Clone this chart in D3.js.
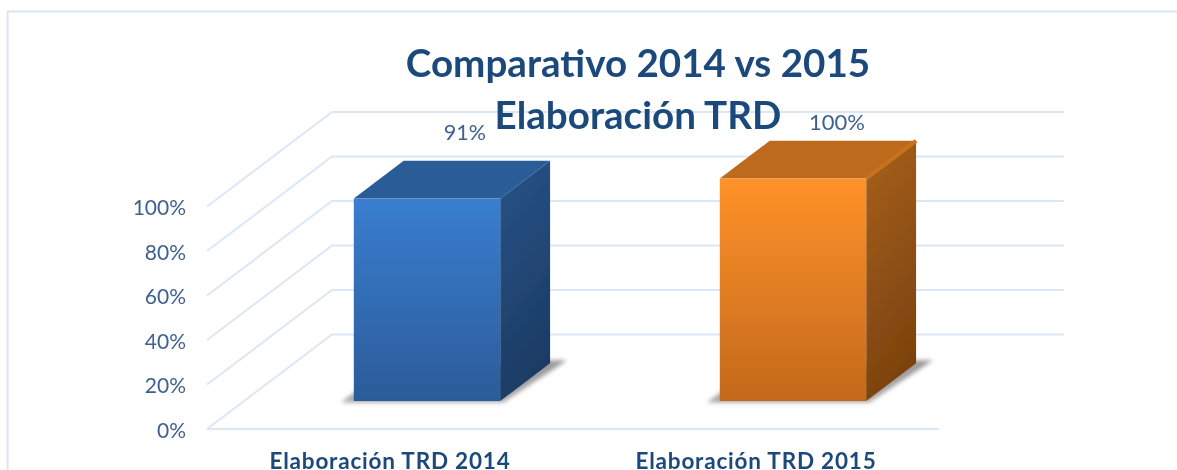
<!DOCTYPE html>
<html><head><meta charset="utf-8">
<script src="https://cdn.jsdelivr.net/npm/d3@7"></script>
<style>html,body{margin:0;padding:0;background:#fff;overflow:hidden}svg{display:block}text{font-family:Lato,"Open Sans",sans-serif}</style>
</head><body><div id="c"></div>
<script>
const categories = ["Elaboración TRD 2014", "Elaboración TRD 2015"];
const values = [0.91, 1.00];
const labels = ["91%", "100%"];
const tickValues = [0, 0.2, 0.4, 0.6, 0.8, 1];
const titleLines = ["Comparativo 2014 vs 2015", "Elaboración TRD"];
const W = 1177, H = 470;
const svg = d3.select("#c").append("svg").attr("width", W).attr("height", H);
const defs = svg.append("defs");
const y = d3.scaleLinear().domain([0, 1]).range([429, 206.5]);
const x = d3.scaleBand().domain(categories).range([207, 939]).paddingInner(0.6).paddingOuter(0.3);
const depthX = 125, depthY = 94.5, z0 = 0.296, z1 = 0.695;
const P = (px, v, z) => [px + depthX * z, y(v) - depthY * z];
const path = pts => "M" + pts.map(p => p.join(",")).join("L") + "Z";
function grad(id, c0, c1, diag) {
  const g = defs.append("linearGradient").attr("id", id).attr("x1", 0).attr("y1", 0).attr("x2", diag ? 0.25 : 0).attr("y2", 1);
  g.append("stop").attr("offset", 0).attr("stop-color", c0);
  g.append("stop").attr("offset", 1).attr("stop-color", c1);
}
grad("f0", "#3a7dd0", "#2b5c99"); grad("s0", "#285488", "#1b3b64", true);
grad("f1", "#ff9229", "#c3691c"); grad("s1", "#a7611c", "#7c430f", true);
grad("sh", "#9a9a9a", "#a8a8a8");
defs.append("filter").attr("id", "b").attr("x", "-20%").attr("y", "-20%").attr("width", "140%").attr("height", "140%")
  .append("feGaussianBlur").attr("stdDeviation", 2.2);
defs.append("filter").attr("id", "soft").attr("filterUnits", "userSpaceOnUse").attr("x", 0).attr("y", 0).attr("width", W).attr("height", H)
  .append("feGaussianBlur").attr("stdDeviation", 0.55);

const root = svg.append("g");
// frame
root.append("path").attr("d", `M7.5,${H + 5}V11.5H${W + 5}`).attr("fill", "none").attr("stroke", "#dbe6f6").attr("stroke-width", 2);

// grid
const grid = root.append("g").attr("fill", "none").attr("stroke", "#dce7f6").attr("stroke-width", 2);
tickValues.forEach(t => {
  const a = P(207, t, 0), b = P(207, t, 1), c = P(939, t, 1);
  grid.append("path").attr("d", `M${a}L${b}L${c}`);
});
grid.append("line").attr("x1", 207).attr("x2", 939).attr("y1", y(0)).attr("y2", y(0));

// axis labels
const axis = root.append("g").attr("transform", "translate(193,1.5)")
  .call(d3.axisLeft(y).tickValues(tickValues).tickSize(0).tickPadding(7).tickFormat(d3.format(".0%")));
axis.select(".domain").remove();
axis.selectAll("text").attr("fill", "#40618f").attr("font-size", 21).style("font-family", "Lato");

// bars
const labelShiftX = [-12, -6], labelShiftY = [-21, -11], labelSize = [21.5, 22];
categories.forEach((c, i) => {
  const l = x(c), r = l + x.bandwidth(), v = values[i];
  const g = root.append("g");
  const fl = P(l, 0, z0), fr = P(r, 0, z0), br = P(r, 0, z1);
  // floor shadow
  g.append("path").attr("filter", "url(#b)").attr("fill", "url(#sh)")
    .attr("d", path([[fl[0] - 13, fl[1] + 1.5], [fr[0] + 3, fr[1] + 1.5], [br[0] + 17, br[1] - 3], [br[0] - 20, br[1] - 3], [fl[0] + 10, fl[1] - 15]]));
  g.append("path").attr("fill", i ? "#bd6b1d" : "#2c5c98")
    .attr("d", path([P(l, v, z0), P(r, v, z0), P(r, v, z1), P(l, v, z1)]));
  g.append("path").attr("fill", `url(#s${i})`)
    .attr("d", path([P(r, v, z0), P(r, v, z1), P(r, 0, z1), P(r, 0, z0)]));
  const a = P(l, v, z0);
  g.append("rect").attr("x", a[0]).attr("y", a[1]).attr("width", x.bandwidth())
    .attr("height", y(0) - y(v)).attr("fill", `url(#f${i})`);
  if (i) {
    g.append("path").attr("fill", "none").attr("stroke", "#c8721f").attr("stroke-width", 4)
      .attr("d", `M${P(r, v, z0)}L${P(r, v, z1)}`);
  }
  // data label
  const t = P(l + x.bandwidth() / 2, v, z1);
  root.append("text").attr("x", t[0] + labelShiftX[i]).attr("y", t[1] + labelShiftY[i]).attr("text-anchor", "middle")
    .attr("fill", "#40618f").attr("font-size", labelSize[i]).text(labels[i]);
  // category label
  root.append("text").attr("x", l + x.bandwidth() / 2).attr("y", 468.5).attr("text-anchor", "middle")
    .attr("fill", "#1f4a7c").attr("font-size", 22.5).attr("letter-spacing", 0.8).attr("font-weight", 700).text(c);
});

// title
const title = root.append("g").attr("text-anchor", "middle").attr("fill", "#1f4a7c").attr("font-weight", 700).attr("font-size", 38.6);
title.append("text").attr("x", 638).attr("y", 77).text(titleLines[0]);
title.append("text").attr("x", 638).attr("y", 129).text(titleLines[1]);
root.attr("filter", "url(#soft)");
</script></body></html>
